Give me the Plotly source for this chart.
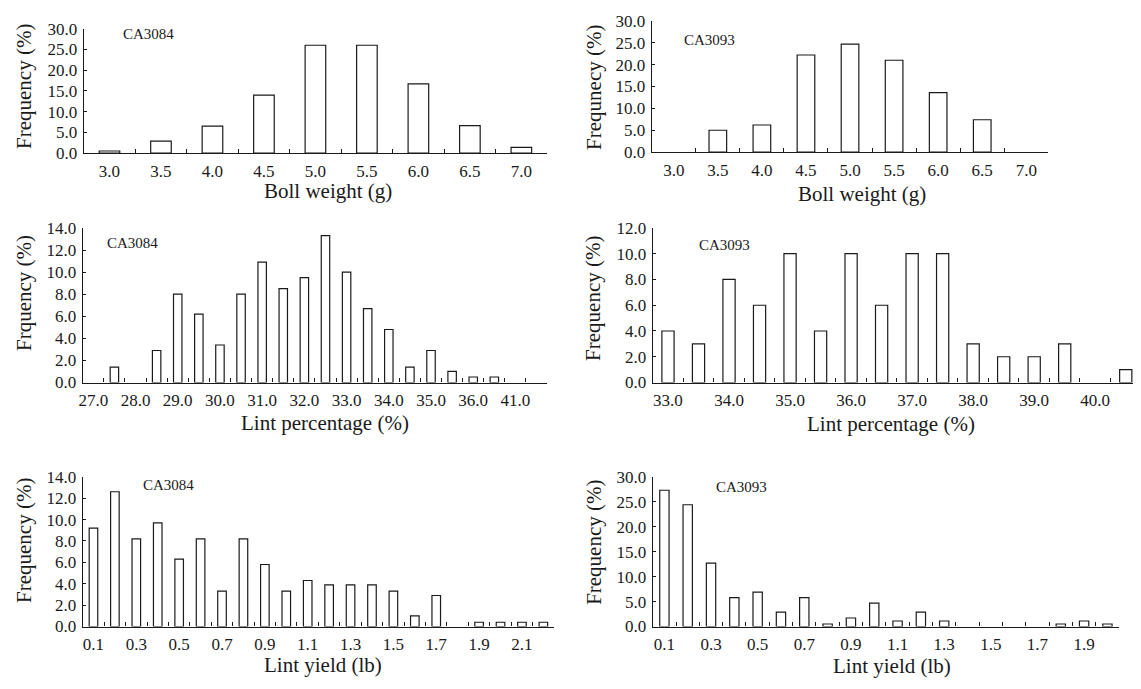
import plotly.graph_objects as go

# ---------------- data ----------------
boll_cats = ["3.0", "3.5", "4.0", "4.5", "5.0", "5.5", "6.0", "6.5", "7.0"]
boll_ca3084 = [0.5, 2.9, 6.5, 14.0, 26.0, 26.0, 16.7, 6.6, 1.4]
boll_ca3093 = [0.0, 5.0, 6.2, 22.2, 24.7, 21.0, 13.6, 7.4, 0.0]

lint_pct_cats_3084 = ["27.0", "27.5", "28.0", "28.5", "29.0", "29.5", "30.0", "30.5",
                      "31.0", "31.5", "32.0", "32.5", "33.0", "33.5", "34.0", "34.5",
                      "35.0", "35.5", "36.0", "36.5", "41.0", "41.5"]
lint_pct_3084 = [0.0, 1.4, 0.0, 2.9, 8.0, 6.2, 3.4, 8.0, 10.9, 8.5, 9.5, 13.3,
                 10.0, 6.7, 4.8, 1.4, 2.9, 1.0, 0.5, 0.5, 0.0, 0.0]
lint_pct_labels_3084 = ["27.0", "", "28.0", "", "29.0", "", "30.0", "", "31.0", "",
                        "32.0", "", "33.0", "", "34.0", "", "35.0", "", "36.0", "",
                        "41.0", ""]

lint_pct_cats_3093 = ["33.0", "33.5", "34.0", "34.5", "35.0", "35.5", "36.0", "36.5",
                      "37.0", "37.5", "38.0", "38.5", "39.0", "39.5", "40.0", "40.5"]
lint_pct_3093 = [4, 3, 8, 6, 10, 4, 10, 6, 10, 10, 3, 2, 2, 3, 0, 1]
lint_pct_labels_3093 = ["33.0", "", "34.0", "", "35.0", "", "36.0", "", "37.0", "",
                        "38.0", "", "39.0", "", "40.0", ""]

yield_cats_3084 = ["0.1", "0.2", "0.3", "0.4", "0.5", "0.6", "0.7", "0.8", "0.9", "1.0",
                   "1.1", "1.2", "1.3", "1.4", "1.5", "1.6", "1.7", "1.8", "1.9", "2.0",
                   "2.1", "2.2"]
yield_3084 = [9.2, 12.6, 8.2, 9.7, 6.3, 8.2, 3.3, 8.2, 5.8, 3.3, 4.3, 3.9, 3.9, 3.9,
              3.3, 1.0, 2.9, 0.0, 0.4, 0.4, 0.4, 0.4]

yield_cats_3093 = ["0.1", "0.2", "0.3", "0.4", "0.5", "0.6", "0.7", "0.8", "0.9", "1.0",
                   "1.1", "1.2", "1.3", "1.4", "1.5", "1.6", "1.7", "1.8", "1.9", "2.0"]
yield_3093 = [27.3, 24.4, 12.7, 5.8, 6.9, 2.9, 5.8, 0.5, 1.7, 4.7, 1.1, 2.9, 1.1,
              0.0, 0.0, 0.0, 0.0, 0.5, 1.1, 0.5]


def every_other(cats):
    return [c if i % 2 == 0 else "" for i, c in enumerate(cats)]


# page is 1141x689; the html body keeps an 8px margin, so the figure is 8px smaller
PAGE_W, PAGE_H, OFF = 1141, 689, 8
W, H = PAGE_W - OFF, PAGE_H - OFF
FONT = "Liberation Serif"
INK = "#1a1a1a"


def px(x):
    return (x - OFF) / W


def py(y):
    return 1 - (y - OFF) / H


# (cats, values, ticklabels, ymax, dtick, box(l, r, top, bottom), name, name_xy,
#  xtitle, xtitle_xy, ytitle, ytitle_xy)   -- all positions in page pixels
panels = [
    (boll_cats, boll_ca3084, boll_cats, 30, 5, (80, 545, 20, 148), "CA3084", (145, 26),
     "Boll weight (g)", (325, 187), "Frequency (%)", (20, 79)),
    (boll_cats, boll_ca3093, boll_cats, 30, 5, (650, 1048, 12, 147), "CA3093", (708, 32),
     "Boll weight (g)", (861, 190), "Frequnecy (%)", (592, 80)),
    (lint_pct_cats_3084, lint_pct_3084, lint_pct_labels_3084, 14, 2, (79, 545, 225, 384),
     "CA3084", (129, 241), "Lint percentage (%)", (322, 426), "Frquency (%)", (20, 292)),
    (lint_pct_cats_3093, lint_pct_3093, lint_pct_labels_3093, 12, 2, (651, 1141, 225, 384),
     "CA3093", (723, 243), "Lint percentage (%)", (890, 427), "Frequency (%)", (591, 297)),
    (yield_cats_3084, yield_3084, every_other(yield_cats_3084), 14, 2, (79, 552, 481, 635),
     "CA3084", (165, 489), "Lint yield (lb)", (320, 675), "Frequency (%)", (20, 546)),
    (yield_cats_3093, yield_3093, every_other(yield_cats_3093), 30, 5, (651, 1119, 481, 635),
     "CA3093", (740, 492), "Lint yield (lb)", (891, 676), "Frequency (%)", (592, 548)),
]

fig = go.Figure()
annotations = []
layout = {}

for i, (cats, vals, labels, ymax, dtick, box, name, name_xy, xt, xt_xy, yt, yt_xy) in enumerate(panels):
    n = i + 1
    xa = "x" if n == 1 else f"x{n}"
    ya = "y" if n == 1 else f"y{n}"
    l, r, t, b = box
    fig.add_trace(go.Bar(
        x=cats, y=[v if v > 0 else None for v in vals], xaxis=xa, yaxis=ya, width=0.4,
        marker=dict(color="white", line=dict(color=INK, width=1.2)),
        showlegend=False,
    ))
    layout["xaxis" if n == 1 else f"xaxis{n}"] = dict(
        domain=[max(px(l), 0), min(px(r), 1)], anchor=ya, type="category",
        categoryorder="array", categoryarray=cats,
        range=[-0.5, len(cats) - 0.5],
        tickmode="array", tickvals=cats, ticktext=labels, tickangle=0,
        tickson="boundaries", ticks="inside", ticklen=4, tickwidth=1, tickcolor=INK,
        showline=True, linecolor=INK, linewidth=1.2, showgrid=False, zeroline=False,
        tickfont=dict(family=FONT, size=17, color=INK), ticklabelstandoff=2,
        fixedrange=True,
    )
    layout["yaxis" if n == 1 else f"yaxis{n}"] = dict(
        domain=[py(b), py(t)], anchor=xa,
        range=[0, ymax], dtick=dtick, tick0=0, tickformat=".1f",
        ticks="inside", ticklen=3, tickwidth=1, tickcolor=INK,
        showline=True, linecolor=INK, linewidth=1.2, showgrid=False, zeroline=False,
        tickfont=dict(family=FONT, size=17, color=INK), ticklabelstandoff=2,
        fixedrange=True,
    )
    common = dict(xref="paper", yref="paper", showarrow=False,
                  xanchor="center", yanchor="middle")
    annotations.append(dict(text=name, x=px(name_xy[0]), y=py(name_xy[1]),
                            font=dict(family=FONT, size=15, color=INK), **common))
    annotations.append(dict(text=xt, x=px(xt_xy[0]), y=py(xt_xy[1]),
                            font=dict(family=FONT, size=21, color=INK), **common))
    annotations.append(dict(text=yt, x=px(yt_xy[0]), y=py(yt_xy[1]), textangle=-90,
                            font=dict(family=FONT, size=21, color=INK), **common))

fig.update_layout(
    width=W, height=H,
    margin=dict(l=0, r=0, t=0, b=0),
    paper_bgcolor="white", plot_bgcolor="white",
    annotations=annotations,
    **layout,
)

fig.write_html("out.html", config={"displayModeBar": False})
